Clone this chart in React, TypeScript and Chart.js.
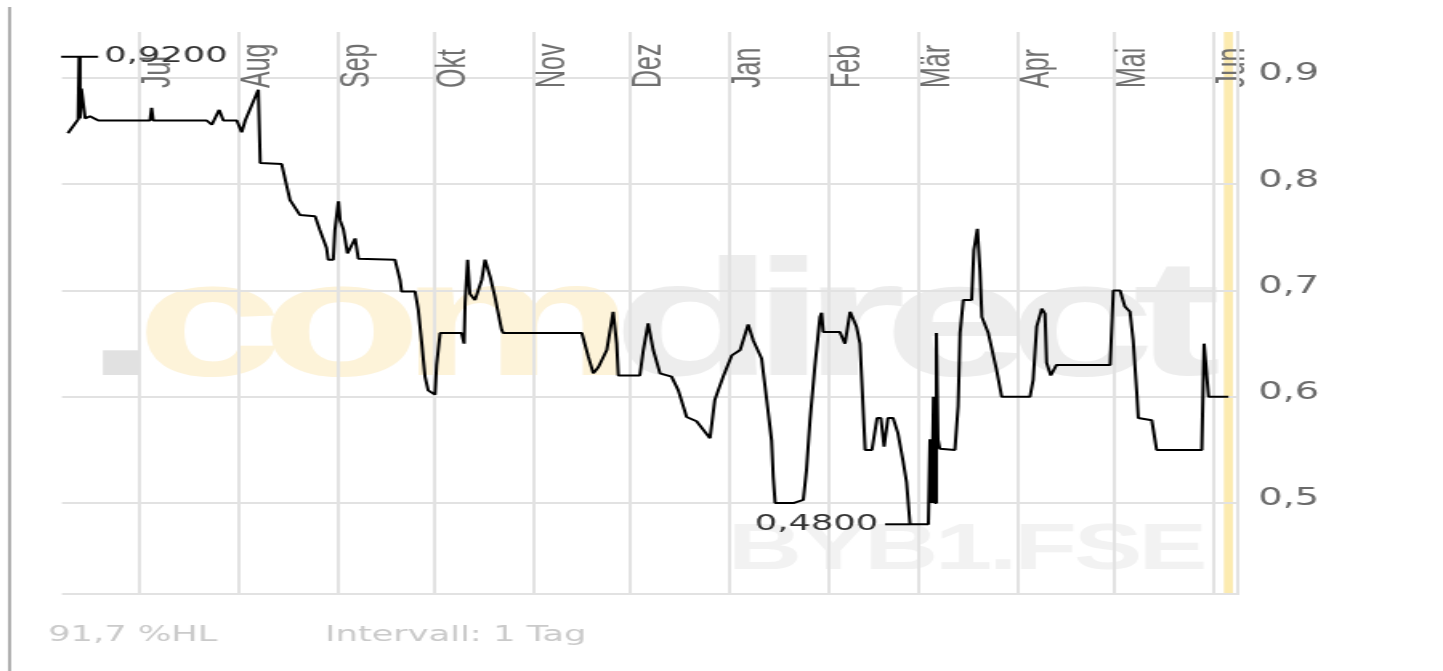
import React, { useEffect, useRef } from 'react';
import { Chart, registerables } from 'chart.js';

Chart.register(...registerables);

// canvas is drawn at 900px wide and stretched to the 1443px window
const CANVAS_W = 900;
const CANVAS_H = 671;
const S = 1443 / CANVAS_W;

// day index (0 = 1 Jul) and closing price
const days = [
  -22.5, -19.3, -19.0, -18.7, -18.3, -17.1, -15.6, -13.0, 3.1, 3.6,
  4.1, 20.8, 22.4, 24.7, 26.0, 30.2, 31.7, 32.8, 36.9, 37.5,
  44.2, 45.8, 46.8, 49.9, 54.6, 56.1, 58.2, 58.7, 60.3, 60.8,
  61.9, 62.4, 63.4, 64.7, 67.1, 68.1, 79.5, 81.1, 81.6, 85.8,
  86.8, 87.9, 88.9, 89.9, 92.0, 92.5, 93.6, 100.3, 101.1, 101.4,
  102.2, 102.9, 104.5, 106.6, 107.6, 109.2, 110.7, 112.8, 113.3, 137.8,
  139.8, 141.4, 143.0, 145.6, 147.6, 148.7, 149.2, 155.9, 157.0, 158.5,
  160.1, 162.2, 165.8, 167.9, 170.5, 173.6, 177.8, 179.3, 181.9, 184.6,
  187.2, 189.7, 191.3, 193.9, 195.5, 197.0, 197.5, 198.1, 203.8, 206.9,
  207.9, 209.0, 210.5, 212.1, 212.6, 213.1, 218.3, 219.9, 221.5, 223.5,
  224.6, 226.2, 228.3, 229.9, 231.1, 232.1, 233.3, 234.9, 236.4, 238.0,
  239.1, 240.2, 245.9, 246.4, 247.0, 247.5, 248.0, 248.4, 248.9, 249.5,
  254.2, 255.2, 255.8, 256.8, 259.4, 260.1, 261.2, 262.0, 262.6, 264.6,
  267.2, 268.8, 277.6, 278.6, 279.7, 281.3, 282.3, 282.8, 284.1, 285.9,
  302.6, 303.6, 305.7, 307.2, 308.8, 309.8, 310.9, 311.4, 315.6, 317.1,
  331.2, 331.9, 332.6, 333.3, 339.5,
];
const prices = [
  0.848, 0.861, 0.92, 0.862, 0.89, 0.862, 0.864, 0.86, 0.86, 0.872,
  0.86, 0.86, 0.856, 0.87, 0.86, 0.86, 0.849, 0.86, 0.889, 0.82,
  0.819, 0.798, 0.785, 0.771, 0.77, 0.757, 0.74, 0.729, 0.729, 0.757,
  0.784, 0.766, 0.758, 0.735, 0.749, 0.73, 0.729, 0.71, 0.699, 0.699,
  0.682, 0.65, 0.619, 0.606, 0.602, 0.63, 0.66, 0.66, 0.65, 0.688,
  0.729, 0.697, 0.691, 0.71, 0.729, 0.713, 0.694, 0.663, 0.66, 0.66,
  0.638, 0.622, 0.628, 0.644, 0.68, 0.65, 0.62, 0.62, 0.644, 0.669,
  0.644, 0.622, 0.619, 0.606, 0.581, 0.577, 0.561, 0.597, 0.619, 0.639,
  0.644, 0.668, 0.653, 0.636, 0.597, 0.559, 0.525, 0.5, 0.5, 0.503,
  0.531, 0.578, 0.628, 0.675, 0.679, 0.661, 0.661, 0.65, 0.68, 0.666,
  0.65, 0.55, 0.55, 0.58, 0.58, 0.553, 0.58, 0.58, 0.566, 0.54,
  0.52, 0.48, 0.48, 0.56, 0.5, 0.6, 0.5, 0.66, 0.56, 0.551,
  0.55, 0.591, 0.66, 0.691, 0.691, 0.738, 0.758, 0.719, 0.675, 0.66,
  0.625, 0.6, 0.6, 0.616, 0.666, 0.683, 0.678, 0.632, 0.62, 0.63,
  0.63, 0.7, 0.7, 0.685, 0.68, 0.653, 0.605, 0.58, 0.578, 0.55,
  0.55, 0.65, 0.625, 0.6, 0.6,
];

const monthDays = [0, 31, 62, 92, 123, 153, 184, 215, 243, 274, 304, 335];
const monthLabels = ['Jul', 'Aug', 'Sep', 'Okt', 'Nov', 'Dez', 'Jan', 'Feb', 'Mär', 'Apr', 'Mai', 'Jun'];
const yTickValues = [0.5, 0.6, 0.7, 0.8, 0.9];

const X_MIN = -24.33;
const X_MAX = 342.5;
const Y_MIN = 0.4144;
const Y_MAX = 0.9433;

const footerLeft = '91,7 %HL';
const footerRight = 'Intervall: 1 Tag';
const watermarkParts: [string, string][] = [
  ['.', '#e1e1e1'],
  ['com', '#fdf3d9'],
  ['direct', '#ededed'],
];
const watermarkSymbol = 'BYB1.FSE';

const fmt = (v: number, d: number) => v.toFixed(d).replace('.', ',');

function spacedText(ctx: CanvasRenderingContext2D, text: string, x: number, y: number, spacing: number) {
  let cx = x;
  for (const ch of text) {
    ctx.fillText(ch, cx, y);
    cx += ctx.measureText(ch).width + spacing;
  }
  return cx;
}

const decorPlugin = {
  id: 'decor',
  beforeDraw(chart: any) {
    const ctx: CanvasRenderingContext2D = chart.ctx;
    const area = chart.chartArea;
    ctx.save();
    ctx.fillStyle = '#ffffff';
    ctx.fillRect(0, 0, chart.width, chart.height);
    // left frame line
    ctx.fillStyle = '#aaaaaa';
    ctx.fillRect(8 / S, 7, 3 / S, chart.height - 7);
    // watermark
    ctx.textAlign = 'left';
    ctx.textBaseline = 'alphabetic';
    ctx.font = 'bold 165px "Liberation Sans", Arial, sans-serif';
    let x = 85 / S;
    for (const [t, c] of watermarkParts) {
      ctx.fillStyle = c;
      x = spacedText(ctx, t, x, 375, -14);
    }
    ctx.font = 'bold 64px "Liberation Sans", Arial, sans-serif';
    ctx.fillStyle = '#f2f2f2';
    spacedText(ctx, watermarkSymbol, 728 / S, 569, -2);
    // current-day marker band (under grid and labels)
    const px = chart.scales.x.getPixelForValue(days[days.length - 1]);
    ctx.fillStyle = '#fcebb0';
    ctx.fillRect(px - 4.5 / S, area.top, 9 / S, area.bottom - area.top);
    // footer
    ctx.font = '22px "DejaVu Sans", sans-serif';
    ctx.fillStyle = '#cacaca';
    ctx.textBaseline = 'middle';
    ctx.fillText(footerLeft, 48 / S, 635);
    ctx.fillText(footerRight, 325 / S, 635);
    ctx.restore();
  },
  afterDatasetsDraw(chart: any) {
    const ctx: CanvasRenderingContext2D = chart.ctx;
    const xs = chart.scales.x;
    const ys = chart.scales.y;
    let iMax = 0;
    let iMin = 0;
    prices.forEach((p, i) => {
      if (p > prices[iMax]) iMax = i;
      if (p < prices[iMin]) iMin = i;
    });
    ctx.save();
    ctx.strokeStyle = '#000';
    ctx.lineWidth = 2;
    ctx.font = '22px "DejaVu Sans", sans-serif';
    ctx.fillStyle = '#333333';
    ctx.textBaseline = 'middle';
    const mx = xs.getPixelForValue(days[iMax]);
    const my = ys.getPixelForValue(prices[iMax]);
    ctx.beginPath();
    ctx.moveTo(mx - 18 / S, my);
    ctx.lineTo(mx + 19 / S, my);
    ctx.stroke();
    ctx.textAlign = 'left';
    ctx.fillText(fmt(prices[iMax], 4), mx + 25 / S, my);
    const nx = xs.getPixelForValue(days[iMin]);
    const ny = ys.getPixelForValue(prices[iMin]);
    ctx.beginPath();
    ctx.moveTo(nx - 25 / S, ny);
    ctx.lineTo(nx, ny);
    ctx.stroke();
    ctx.textAlign = 'right';
    ctx.fillText(fmt(prices[iMin], 4), nx - 32 / S, ny);
    ctx.restore();
  },
};

export default function App() {
  const ref = useRef<HTMLCanvasElement | null>(null);

  useEffect(() => {
    if (!ref.current) return;
    const gridColor = '#e2e2e2';
    const chart = new Chart(ref.current, {
      type: 'line',
      data: {
        datasets: [
          {
            data: days.map((d, i) => ({ x: d, y: prices[i] })),
            borderColor: '#000000',
            borderWidth: 2,
            borderJoinStyle: 'bevel',
            pointRadius: 0,
            tension: 0,
            fill: false,
          },
        ],
      },
      options: {
        responsive: false,
        maintainAspectRatio: false,
        animation: false,
        devicePixelRatio: 1,
        events: [],
        layout: { padding: { left: 62 / S, top: 32, right: 0, bottom: 77 } },
        plugins: {
          legend: { display: false },
          tooltip: { enabled: false },
          title: { display: false },
        },
        scales: {
          x: {
            type: 'linear',
            position: 'top',
            min: X_MIN,
            max: X_MAX,
            afterBuildTicks: (s: any) => {
              s.ticks = monthDays.map((v) => ({ value: v }));
            },
            afterFit: (s: any) => {
              s.height = 0;
            },
            grid: { color: gridColor, lineWidth: 2, drawTicks: false },
            border: { display: false },
            ticks: {
              autoSkip: false,
              minRotation: 90,
              maxRotation: 90,
              mirror: true,
              padding: 56,
              labelOffset: 19 / S,
              color: '#707070',
              font: { family: '"Liberation Sans", Arial, sans-serif', size: 25, lineHeight: 1 },
              callback: (_v: any, i: number) => monthLabels[i],
            },
          },
          y: {
            type: 'linear',
            position: 'right',
            min: Y_MIN,
            max: Y_MAX,
            afterBuildTicks: (s: any) => {
              s.ticks = [Y_MIN, ...yTickValues].map((v) => ({ value: v }));
            },
            afterFit: (s: any) => {
              s.width = CANVAS_W - 1238 / S;
            },
            grid: { color: gridColor, lineWidth: 2, drawTicks: false },
            border: { display: true, color: gridColor, width: 2 },
            ticks: {
              padding: 12.5,
              labelOffset: -4,
              color: '#6a6a6a',
              font: { family: '"DejaVu Sans", sans-serif', size: 24 },
              callback: (v: any) => (yTickValues.includes(v) ? fmt(v, 1) : ''),
            },
          },
        },
      },
      plugins: [decorPlugin],
    } as any);
    return () => chart.destroy();
  }, []);

  return (
    <div style={{ position: 'fixed', left: 0, top: 0, width: 1443, height: 671, overflow: 'hidden', background: '#fff' }}>
      <canvas
        ref={ref}
        width={CANVAS_W}
        height={CANVAS_H}
        style={{
          display: 'block',
          width: CANVAS_W,
          height: CANVAS_H,
          transform: `scaleX(${S})`,
          transformOrigin: '0 0',
        }}
      />
    </div>
  );
}
